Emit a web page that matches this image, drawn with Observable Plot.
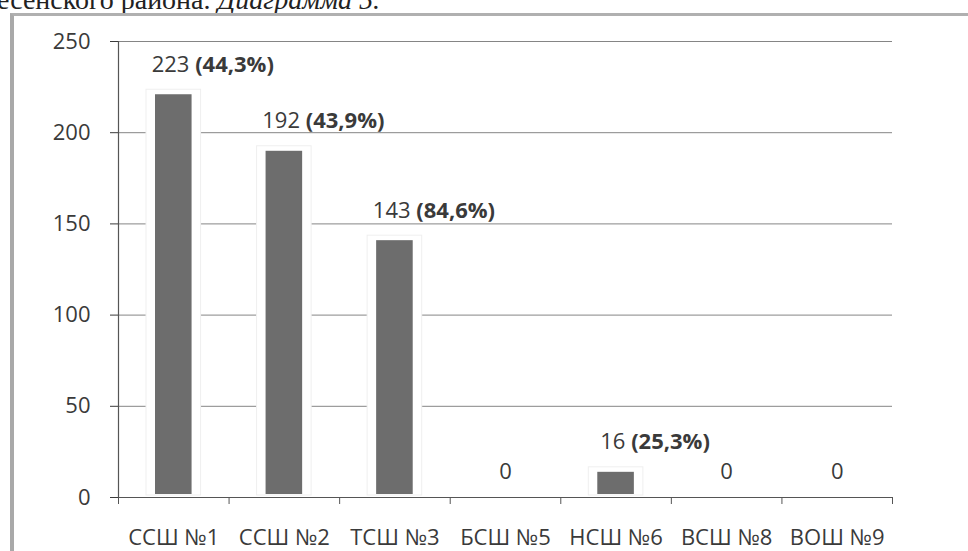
<!DOCTYPE html>
<html>
<head>
<meta charset="utf-8">
<script src="https://cdn.jsdelivr.net/npm/d3@7"></script>
<script src="https://cdn.jsdelivr.net/npm/@observablehq/plot@0.6"></script>
<style>
  html, body { margin: 0; padding: 0; background: #fff; overflow: hidden; }
  #wrap { position: relative; width: 968px; height: 551px; overflow: hidden; background: #fff; }
  #head { position: absolute; left: -3px; top: -14px; font-family: "Liberation Serif", serif; font-size: 28px; line-height: 28px; color: #222; white-space: nowrap; }
  #frame { position: absolute; left: 10px; top: 13px; width: 980px; height: 600px; border-left: 4px solid #a9a9a9; border-top: 3px solid #b0b0b0; }
  #chart { position: absolute; left: 0; top: 0; }
</style>
</head>
<body>
<div id="wrap">
  <div id="head">есенского района. <i>Диаграмма 5.</i></div>
  <div id="frame"></div>
  <div id="chart"></div>
</div>
<script>
const categories = ["ССШ №1", "ССШ №2", "ТСШ №3", "БСШ №5", "НСШ №6", "ВСШ №8", "ВОШ №9"];
const values = [223, 192, 143, 0, 16, 0, 0];
const percents = ["44,3%", "43,9%", "84,6%", null, "25,3%", null, null];
const yTicks = [0, 50, 100, 150, 200, 250];

const data = categories.map((c, i) => ({i, category: c, value: values[i], pct: percents[i]}));
const nonZero = data.filter(d => d.value > 0);
const zeros = data.filter(d => d.value === 0);

const svg = Plot.plot({
  width: 968,
  height: 551,
  marginLeft: 118,
  marginRight: 76,
  marginTop: 41,
  marginBottom: 54,
  style: {fontFamily: "'Open Sans', sans-serif", fontSize: "22px", color: "#3a3a3a", background: "transparent"},
  x: {domain: [0, categories.length], axis: null},
  y: {domain: [0, 250], axis: null},
  marks: [
    Plot.ruleY(yTicks.filter(d => d > 0), {stroke: "#858585", strokeWidth: 1}),
    Plot.rectY(nonZero, {x1: d => d.i, x2: d => d.i + 1, y: "value", fill: "#fff", stroke: "#efefef", insetLeft: 28, insetRight: 28, insetBottom: 2, insetTop: -1}),
    Plot.rectY(nonZero, {x1: d => d.i, x2: d => d.i + 1, y: "value", fill: "#6d6d6d", insetLeft: 37, insetRight: 37, insetBottom: 3, insetTop: 4}),
    Plot.ruleY([0], {stroke: "#555", strokeWidth: 1.2}),
    Plot.ruleX([0], {stroke: "#555", strokeWidth: 1.2}),
    Plot.axisY({ticks: yTicks, label: null, tickSize: 8, tickPadding: 20, fontSize: 22, color: "#3a3a3a"}),
    Plot.axisX({ticks: d3.range(0, categories.length + 1), label: null, tickFormat: () => "", tickSize: 7, color: "#555"}),
    Plot.axisX({ticks: d3.range(categories.length).map(i => i + 0.5), label: null, tickFormat: d => categories[Math.round(d - 0.5)], tickSize: 0, tickPadding: 32, fontSize: 22, color: "#3a3a3a"}),
    Plot.text(nonZero, {x: d => d.i + 0.5, y: "value", text: d => `${d.value} (${d.pct})`, dy: -26, dx: 39, fontSize: 22, fill: "#3a3a3a", lineAnchor: "middle"}),
    Plot.text(zeros, {x: d => d.i + 0.5, y: "value", text: d => `${d.value}`, dy: -26, fontSize: 22, fill: "#3a3a3a", lineAnchor: "middle"})
  ]
});

// Rich text: value in normal weight, percentage in bold
d3.select(svg).selectAll("text").each(function() {
  const t = this.textContent;
  const m = /^(\d+) (\(.+\))$/.exec(t);
  if (m && this.childElementCount === 0) {
    const sel = d3.select(this);
    sel.text("");
    sel.append("tspan").text(m[1] + " ");
    sel.append("tspan").attr("font-weight", "bold").text(m[2]);
  }
});

document.getElementById("chart").appendChild(svg);
</script>
</body>
</html>
